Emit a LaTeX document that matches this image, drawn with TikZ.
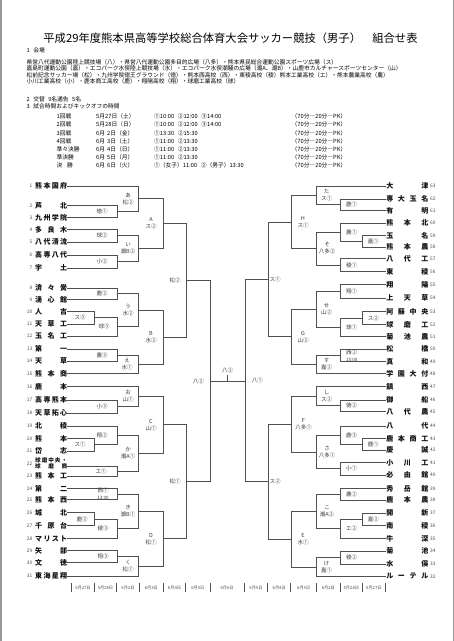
\documentclass[tikz,border=0pt]{standalone}
\usepackage{fontspec}
\setmainfont{Noto Sans CJK JP}
\usetikzlibrary{calc}
\definecolor{ln}{HTML}{505050}
\definecolor{lb}{HTML}{3A3A3A}
\definecolor{nm}{HTML}{111111}
\definecolor{fr}{HTML}{9A9A9A}
\makeatletter
\newcommand\sprd[2]{\makebox[#1][s]{\@tfor\sprdc:=#2\do{\sprdc\hfill}\unskip}}
\makeatother
\tikzset{
  br/.style={draw=ln, line width=0.85pt},
  lab/.style={inner sep=0, text=lb, font=\fontsize{5.5}{7}\selectfont, align=center},
  tn/.style={inner sep=0, text=nm, font=\bfseries\fontsize{7}{7}\selectfont},
  tnsm/.style={inner sep=0, text=nm, font=\bfseries\fontsize{5.6}{6}\selectfont},
  num/.style={inner sep=0, text=black!70, font=\fontsize{4.8}{5}\selectfont},
  hd/.style={inner sep=0, anchor=west, font=\fontsize{5.75}{6}\selectfont},
  dt/.style={inner sep=0, text=black!70, font=\fontsize{4.2}{5}\selectfont},
  tk/.style={draw=ln, line width=0.5pt}
}
% team on the left: number, y, name
\newcommand\tL[3]{%
  \node[num,anchor=east] (nL#1) at (32.5,#2) {#1};
  \node[tn,anchor=west] (L#1) at (35,#2) {\sprd{32pt}{#3}};}
% team on the right
\newcommand\tR[3]{%
  \node[num,anchor=west] (nR#1) at (430,#2) {#1};
  \node[tn,anchor=east] (R#1) at (428.5,#2) {\sprd{42pt}{#3}};}
% match: name, column x, source a, source b, label, label x
\newcommand\mt[6]{%
  \coordinate (#1m) at ($(#3)!0.5!(#4)$);
  \coordinate (#1) at (#2,0 |- #1m);
  \draw[br] (#3) -- (#3 -| #2,0) -- (#4 -| #2,0) -- (#4);
  \node[lab] (#1l) at (#6,0 |- #1m) {#5};}
\begin{document}
\begin{tikzpicture}[x=1pt,y=-1pt]
\useasboundingbox (0,0) rectangle (454,641);
\fill[white] (0,0) rectangle (454,641);
\draw[fr, line width=1.5pt] (0.75,0) -- (0.75,641);
\draw[fr, line width=1.5pt] (453.25,0) -- (453.25,641);

% ---------- header ----------
\node[inner sep=0, font=\fontsize{11.3}{12}\selectfont] (title) at (230.5,38)
  {平成29年度熊本県高等学校総合体育大会サッカー競技（男子）\hspace{1em}組合せ表};
\node[hd] (h1) at (26.5,50) {1\hspace{0.6em}会場};
\node[hd] (v1) at (26.5,62) {県営八代運動公園陸上競技場（八）・県営八代運動公園多目的広場（八多）・熊本県民総合運動公園スポーツ広場（ス）};
\node[hd] (v2) at (26.5,68.5) {嘉島町運動公園（嘉）・エコパーク水俣陸上競技場（水）・エコパーク水俣潮騒の広場（潮A、潮B）・山鹿市カルチャースポーツセンター（山）};
\node[hd] (v3) at (26.5,75) {松前記念サッカー場（松）・九州学院徳王グラウンド（徳）・熊本西高校（西）・東稜高校（稜）熊本工業高校（エ）・熊本農業高校（農）};
\node[hd] (v4) at (26.5,81.5) {小川工業高校（小）・鹿本商工高校（鹿）・翔陽高校（翔）・球磨工業高校（球）};
\node[hd] (h2) at (26.5,99) {2\hspace{0.6em}交替\hspace{0.6em}9名通告\hspace{0.6em}5名};
\node[hd] (h3) at (26.5,106.5) {3\hspace{0.6em}試合時間およびキックオフの時間};
\foreach \y/\r/\d/\t [count=\i] in {
  116/1回戦/5月27日（土）/①10:00\hspace{0.6em}②12:00\hspace{0.6em}③14:00,
  124.5/2回戦/5月28日（日）/①10:00\hspace{0.6em}②12:00\hspace{0.6em}③14:00,
  133/3回戦/6月\hspace{0.35em}2日（金）/①13:30\hspace{0.6em}②15:30,
  141/4回戦/6月\hspace{0.35em}3日（土）/①11:00\hspace{0.6em}②13:30,
  149/準々決勝/6月\hspace{0.35em}4日（日）/①11:00\hspace{0.6em}②13:30,
  157/準決勝/6月\hspace{0.35em}5日（月）/①11:00\hspace{0.6em}②13:30,
  165/決\hspace{0.8em}勝/6月\hspace{0.35em}6日（火）/①（女子）11:00\hspace{0.6em}②（男子）13:30}{
  \node[hd] (sr\i) at (56.5,\y) {\r};
  \node[hd] (sd\i) at (96,\y) {\d};
  \node[hd] (st\i) at (154,\y) {\t};
  \node[hd] (sp\i) at (291.5,\y) {（70分―20分―PK）};
}

% ---------- left teams ----------
\tL{1}{186}{熊本国府}
\tL{2}{205.5}{芦北}
\tL{3}{217.5}{九州学院}
\tL{4}{229.5}{多良木}
\tL{5}{242}{八代清流}
\tL{6}{255}{高専八代}
\tL{7}{268}{宇土}
\tL{8}{288}{済々黌}
\tL{9}{299.5}{湧心館}
\tL{10}{311.5}{人吉}
\tL{11}{324}{天草工}
\tL{12}{336}{玉名工}
\tL{13}{349}{第一}
\tL{14}{361}{天草}
\tL{15}{373.5}{熊本商}
\tL{16}{386.5}{鹿本}
\tL{17}{400}{高専熊本}
\tL{18}{413}{天草拓心}
\tL{19}{426}{北稜}
\tL{20}{438.5}{熊本}
\tL{21}{451}{岱志}
\node[num,anchor=east] (nL22) at (32.5,463.5) {22};
\node[tnsm,anchor=west] (L22a) at (35,460) {\sprd{32pt}{球磨中央・}};
\node[tnsm,anchor=west] (L22) at (35,466.5) {\sprd{32pt}{球磨商}};
\tL{23}{476}{熊本工}
\tL{24}{488.5}{第二}
\tL{25}{499.5}{熊本西}
\tL{26}{512.5}{城北}
\tL{27}{525.5}{千原台}
\tL{28}{538.5}{マリスト}
\tL{29}{550.5}{矢部}
\tL{30}{562.5}{文徳}
\tL{31}{576}{東海星翔}

% ---------- right teams ----------
\tR{63}{186}{大津}
\tR{62}{199}{専大玉名}
\tR{61}{210.5}{有明}
\tR{60}{223}{熊本北}
\tR{59}{235.5}{玉名}
\tR{58}{247}{熊本農}
\tR{57}{258.5}{八代工}
\tR{56}{271.5}{東稜}
\tR{55}{284.5}{翔陽}
\tR{54}{298}{上天草}
\tR{53}{311.5}{阿蘇中央}
\tR{52}{324.5}{球磨工}
\tR{51}{336.5}{菊池農}
\tR{50}{349}{松橋}
\tR{49}{361.5}{真和}
\tR{48}{373.5}{学園大付}
\tR{47}{386.5}{鎮西}
\tR{46}{400}{御船}
\tR{45}{411.5}{八代農}
\tR{44}{426}{八代}
\tR{43}{438.5}{鹿本商工}
\tR{42}{450}{慶誠}
\tR{41}{462.5}{小川工}
\tR{40}{475}{必由館}
\tR{39}{488.5}{秀岳館}
\tR{38}{500}{鹿本農}
\tR{37}{513}{開新}
\tR{36}{525.5}{南稜}
\tR{35}{538.5}{牛深}
\tR{34}{551}{菊池}
\tR{33}{564}{水俣}
\tR{32}{576.5}{ルーテル}

% ---------- left bracket ----------
\mt{m23}{117}{L2.east}{L3.east}{徳①}{102}
\mt{ma}{138.5}{L1.east}{m23}{あ\\松②}{128}
\mt{m45}{117}{L4.east}{L5.east}{球②}{102}
\mt{m67}{117}{L6.east}{L7.east}{小②}{102}
\mt{mi}{138.5}{m45}{m67}{い\\潮B②}{128}
\mt{mA}{163}{ma}{mi}{A\\ス②}{151}
\mt{m89}{117}{L8.east}{L9.east}{鹿②}{102}
\mt{m1011}{94.3}{L10.east}{L11.east}{ス③}{80}
\mt{m1012}{117}{m1011}{L12.east}{球③}{104}
\mt{mu}{138.5}{m89}{m1012}{う\\水②}{128}
\mt{m1314}{117}{L13.east}{L14.east}{農③}{102}
\mt{me}{138.5}{m1314}{L15.east}{え\\水①}{127}
\mt{mB}{163}{mu}{me}{B\\水②}{151}
\mt{m1718}{117}{L17.east}{L18.east}{小③}{102}
\mt{mo}{138.5}{L16.east}{m1718}{お\\山①}{128}
\mt{m2021}{94.3}{L20.east}{L21.east}{ス①}{80}
\mt{m1921}{117}{L19.east}{m2021}{翔②}{102}
\mt{m2223}{117}{L22.east}{L23.east}{エ①}{101}
\mt{mka}{138.5}{m1921}{m2223}{か\\潮A①}{128}
\mt{mC}{163}{mo}{mka}{C\\山①}{151}
\mt{m2425}{117}{L24.east}{L25.east}{西①\\{\fontsize{4.5}{5}\selectfont 13:00}}{103}
\mt{m2627}{94.3}{L26.east}{L27.east}{鹿②}{82}
\mt{m2628}{117}{m2627}{L28.east}{稜③}{103}
\mt{mki}{138.5}{m2425}{m2628}{き\\潮B①}{128}
\mt{m2930}{117}{L29.east}{L30.east}{翔③}{103}
\mt{mku}{138.5}{m2930}{L31.east}{く\\松①}{128}
\mt{mD}{163}{mki}{mku}{D\\松①}{151}
\mt{mQ1}{186}{mA}{mB}{松②}{175}
\mt{mQ2}{186}{mC}{mD}{松①}{175}
\mt{mSL}{210}{mQ1}{mQ2}{八②}{198.3}

% ---------- right bracket ----------
\mt{n6261}{340}{R62.west}{R61.west}{鹿①}{351.7}
\mt{nta}{316.5}{R63.west}{n6261}{た\\ス①}{326.7}
\mt{n5958}{362.7}{R59.west}{R58.west}{嘉①}{373.3}
\mt{n6058}{340}{R60.west}{n5958}{農①}{351.7}
\mt{n5756}{340}{R57.west}{R56.west}{稜①}{351.7}
\mt{nso}{316.5}{n6058}{n5756}{そ\\八多②}{327}
\mt{nH}{291.5}{nta}{nso}{H\\ス①}{303}
\mt{n5554}{340}{R55.west}{R54.west}{翔①}{351.7}
\mt{n5352}{362.7}{R53.west}{R52.west}{ス②}{373.3}
\mt{n5351}{340}{n5352}{R51.west}{球①}{351.7}
\mt{nse}{316.5}{n5554}{n5351}{せ\\山②}{326.7}
\mt{n5049}{340}{R50.west}{R49.west}{西②\\{\fontsize{4.5}{5}\selectfont 15:00}}{351.7}
\mt{nsu}{316.5}{n5049}{R48.west}{す\\嘉②}{326.7}
\mt{nG}{291.5}{nse}{nsu}{G\\山②}{303}
\mt{n4645}{340}{R46.west}{R45.west}{徳②}{351.7}
\mt{nshi}{316.5}{R47.west}{n4645}{し\\ス②}{326.7}
\mt{n4342}{362.7}{R43.west}{R42.west}{鹿①}{373.3}
\mt{n4442}{340}{R44.west}{n4342}{鹿③}{351.7}
\mt{n4140}{340}{R41.west}{R40.west}{小①}{351.7}
\mt{nsa}{316.5}{n4442}{n4140}{さ\\八多①}{327}
\mt{nF}{291.5}{nshi}{nsa}{F\\八多①}{303.5}
\mt{n3938}{340}{R39.west}{R38.west}{農②}{351.7}
\mt{n3736}{362.7}{R37.west}{R36.west}{嘉②}{373.3}
\mt{n3735}{340}{n3736}{R35.west}{エ②}{351.7}
\mt{nko}{316.5}{n3938}{n3735}{こ\\潮A②}{327}
\mt{n3433}{340}{R34.west}{R33.west}{稜②}{351.7}
\mt{nke}{316.5}{n3433}{R32.west}{け\\嘉①}{326.7}
\mt{nE}{291.5}{nko}{nke}{E\\水①}{303}
\mt{nQ1}{268.5}{nH}{nG}{ス①}{275}
\mt{nQ2}{268.5}{nF}{nE}{ス②}{275}
\mt{nSR}{245}{nQ1}{nQ2}{八①}{257.3}

% ---------- final ----------
\draw[br] (mSL) -- (mSL -| nSR);
\coordinate (fin) at ($(mSL)!0.5!(mSL -| nSR)$);
\draw[br] (fin) -- ++(0,-6);
\node[lab] (finl) at ($(fin)+(0,-11)$) {八②};

% ---------- dates ----------
\foreach \x [count=\i] in {71.7,94.3,116.7,139.3,163.3,185.7,210,244.3,267.7,290.7,316.7,340,362.7,385}
  \draw[tk] (\x,583) -- (\x,592);
\foreach \a/\b/\t [count=\i] in {71.7/94.3/5月27日,94.3/116.7/5月28日,116.7/139.3/6月2日,139.3/163.3/6月3日,163.3/185.7/6月4日,185.7/210/6月5日,210/244.3/6月6日,244.3/267.7/6月5日,267.7/290.7/6月4日,290.7/316.7/6月3日,316.7/340/6月2日,340/362.7/5月28日,362.7/385/5月27日}
  \node[dt] (dt\i) at ({(\a+\b)/2},588) {\t};
\end{tikzpicture}
\end{document}
